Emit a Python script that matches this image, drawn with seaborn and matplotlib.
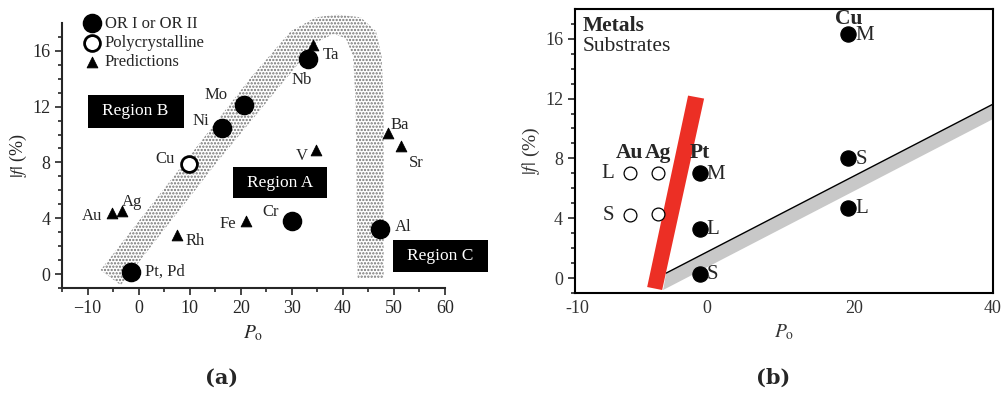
import numpy as np
import pandas as pd
import matplotlib.pyplot as plt
import seaborn as sns
from matplotlib.patches import Polygon, Rectangle

sns.set_style("ticks")
plt.rcParams['font.family'] = ['Liberation Serif', 'DejaVu Serif']
plt.rcParams['mathtext.fontset'] = 'stix'
plt.rcParams['hatch.linewidth'] = 1.1

# ---- panel (a) data ----
or_names = ['Pt, Pd', 'Ni', 'Mo', 'Nb', 'Cr', 'Al']
or_po = [-1.4, 16.3, 20.6, 33.1, 30.0, 47.3]
or_f = [0.15, 10.5, 12.1, 15.4, 3.8, 3.2]

poly_names = ['Cu']
poly_po = [9.8]
poly_f = [7.9]

pred_names = ['Au', 'Ag', 'Rh', 'Fe', 'V', 'Ta', 'Ba', 'Sr']
pred_po = [-5.3, -3.2, 7.5, 21.0, 34.7, 34.2, 48.8, 51.4]
pred_f = [4.35, 4.5, 2.8, 3.8, 8.9, 16.4, 10.1, 9.2]

# stippled band outline (P_o, |f|)
band_po = [-7.45, 8.8, 22.0, 29.8, 34.7, 39.0, 43.5, 46.5, 47.6, 48.0, 48.0,
           42.9, 42.5, 42.0, 40.6, 38.2, 35.3, 31.8, 15.1, -3.5]
band_f = [0.29, 7.9, 14.1, 17.4, 18.4, 18.6, 18.4, 17.4, 15.6, 12.4, -0.3,
          -0.3, 12.4, 15.6, 16.9, 17.2, 16.7, 15.3, 7.9, -0.8]

regions = ['Region B', 'Region A', 'Region C']
region_x = [(-10.0, 8.8), (18.4, 36.9), (49.8, 68.4)]
region_y = [(10.5, 12.85), (5.43, 7.64), (0.14, 2.43)]

# ---- panel (b) data ----
metals = ['Au', 'Ag', 'Pt', 'Cu']
metal_po = [-10.5, -6.7, -1.0, 19.2]
metal_filled = [False, False, True, True]
metal_subs = [['L', 'S'], ['L', 'S'], ['M', 'L', 'S'], ['M', 'S', 'L']]
metal_f = [[7.0, 4.2], [7.0, 4.3], [7.0, 3.3, 0.3], [16.3, 8.0, 4.7]]

red_po = [-8.16, -6.12, -0.41, -2.59]
red_f = [-0.6, -0.8, 12.0, 12.2]
grey_po = [-5.58, 38.8, 38.8, -5.99]
grey_f = [0.33, 11.6, 10.6, -0.8]

# label offsets (pixels) for panel (a)
px = 0.72
lab_a = {
    'Pt, Pd': (14, 0, 'left'), 'Ni': (-13, 7, 'right'), 'Mo': (-16, 10, 'right'),
    'Nb': (-6, -21, 'center'), 'Cr': (-13, 9, 'right'), 'Al': (15, 2, 'left'),
    'Cu': (-14, 5, 'right'), 'Au': (-9, -3, 'right'), 'Ag': (0, 9, 'left'),
    'Rh': (9, -6, 'left'), 'Fe': (-10, -3, 'right'), 'V': (-8, -6, 'right'),
    'Ta': (10, -10, 'left'), 'Ba': (3, 8, 'left'), 'Sr': (8, -17, 'left'),
}

fig = plt.figure(figsize=(10.05, 3.98), dpi=100)
ax1 = fig.add_axes([0.0617, 0.2764, 0.381, 0.666])
ax2 = fig.add_axes([0.572, 0.2638, 0.416, 0.714])

# ---------------- (a) ----------------
ax1.add_patch(Polygon(np.column_stack([band_po, band_f]), closed=True,
                      facecolor='white', edgecolor='#737373', hatch='.....',
                      lw=0, zorder=1, clip_on=False))

sns.scatterplot(x=or_po, y=or_f, ax=ax1, marker='o', s=170, color='black',
                edgecolor='black', label='OR I or OR II', zorder=3)
sns.scatterplot(x=poly_po, y=poly_f, ax=ax1, marker='o', s=130, color='white',
                edgecolor='black', linewidth=2, label='Polycrystalline', zorder=3)
sns.scatterplot(x=pred_po, y=pred_f, ax=ax1, marker='^', s=60, color='black',
                edgecolor='black', label='Predictions', zorder=3)

for names, xs, ys in [(or_names, or_po, or_f), (poly_names, poly_po, poly_f),
                      (pred_names, pred_po, pred_f)]:
    for n, x, y in zip(names, xs, ys):
        dx, dy, ha = lab_a[n]
        ax1.annotate(n, (x, y), xytext=(dx * px, dy * px), textcoords='offset points',
                     ha=ha, va='center', fontsize=12, zorder=4)

for name, (x0, x1), (y0, y1) in zip(regions, region_x, region_y):
    ax1.add_patch(Rectangle((x0, y0), x1 - x0, y1 - y0, facecolor='black',
                            edgecolor='none', zorder=2, clip_on=False))
    ax1.text((x0 + x1) / 2, (y0 + y1) / 2, name, color='white', ha='center',
             va='center', fontsize=12.5, zorder=3, clip_on=False)

ax1.set_xlim(-15, 60)
ax1.set_ylim(-1, 18)
ax1.set_xticks(np.arange(-10, 61, 10))
ax1.set_xticks(np.arange(-15, 61, 5), minor=True)
ax1.set_yticks(np.arange(0, 17, 4))
ax1.set_yticks(np.arange(-1, 18, 1), minor=True)
ax1.tick_params(axis='both', which='major', length=5, width=1.2, labelsize=13)
ax1.tick_params(axis='both', which='minor', length=3, width=1.2)
sns.despine(ax=ax1)
for sp in ['left', 'bottom']:
    ax1.spines[sp].set_linewidth(1.5)
ax1.set_xlabel(r'$P_\mathrm{o}$', fontsize=14, labelpad=5)
ax1.set_ylabel(r'$|f|$ (%)', fontsize=13, labelpad=2)

ax1.legend(loc='upper left', bbox_to_anchor=(0.025, 1.065), frameon=False,
           fontsize=12, handletextpad=0.2, labelspacing=0.2, borderpad=0.1,
           handlelength=1.2)

# ---------------- (b) ----------------
ax2.add_patch(Polygon(np.column_stack([grey_po, grey_f]), closed=True,
                      facecolor='#c8c8c8', edgecolor='none', zorder=1))
ax2.plot(grey_po[:2], grey_f[:2], color='black', lw=1, zorder=1.5)
ax2.add_patch(Polygon(np.column_stack([red_po, red_f]), closed=True,
                      facecolor='#ec2f25', edgecolor='none', zorder=2,
                      clip_on=False))

rows = []
for m, x, filled, subs, fs in zip(metals, metal_po, metal_filled, metal_subs, metal_f):
    for s, y in zip(subs, fs):
        rows.append({'metal': m, 'po': x, 'f': y, 'sub': s, 'filled': filled})
dfb = pd.DataFrame(rows)

sns.scatterplot(data=dfb[dfb['filled']], x='po', y='f', ax=ax2, marker='o', s=120,
                color='black', edgecolor='black', zorder=3, legend=False)
sns.scatterplot(data=dfb[~dfb['filled']], x='po', y='f', ax=ax2, marker='o', s=85,
                color='white', edgecolor='black', linewidth=0.9, zorder=3,
                legend=False)

for _, r in dfb.iterrows():
    if r['filled']:
        ax2.annotate(r['sub'], (r['po'], r['f']), xytext=(7 * px, -1 * px),
                     textcoords='offset points', ha='left', va='center',
                     fontsize=15, zorder=4)
    elif r['metal'] == 'Au':
        ax2.annotate(r['sub'], (r['po'], r['f']), xytext=(-16 * px, 0),
                     textcoords='offset points', ha='right', va='center',
                     fontsize=15, zorder=4)

for m, x, fs in zip(metals, metal_po, metal_f):
    dy = 15 if m == 'Cu' else 20
    ax2.annotate(m, (x, fs[0]), xytext=(0, dy * px), textcoords='offset points',
                 ha='center', va='center', fontsize=15.5, fontweight='bold',
                 zorder=4)

ax2.text(0.018, 0.94, 'Metals', transform=ax2.transAxes, fontsize=15.5,
         fontweight='bold', va='center')
ax2.text(0.018, 0.867, 'Substrates', transform=ax2.transAxes, fontsize=15.5,
         va='center')

ax2.set_xlim(-18, 38.9)
ax2.set_ylim(-1, 18)
ax2.set_xticks([-17.7, 0, 20, 38.9])
ax2.set_xticklabels(['-10', '0', '20', '40'])
ax2.set_yticks(np.arange(0, 17, 4))
ax2.set_yticks(np.arange(-1, 18, 1), minor=True)
ax2.tick_params(axis='x', length=0, labelsize=13, labelcolor='#333333', pad=5)
ax2.tick_params(axis='y', which='major', length=5, width=1.2, labelsize=13,
                labelcolor='#333333')
ax2.tick_params(axis='y', which='minor', length=3, width=1.2)
for sp in ax2.spines.values():
    sp.set_linewidth(1.5)
    sp.set_color('black')
ax2.set_xlabel(r'$P_\mathrm{o}$', fontsize=14, labelpad=4, color='#333333')
ax2.set_ylabel(r'$|f|$ (%)', fontsize=14, labelpad=2, color='#333333')

fig.text(222 / 1005, 1 - 378 / 398, '(a)', ha='center', va='center',
         fontsize=15, fontweight='bold', family='DejaVu Serif')
fig.text(773 / 1005, 1 - 378 / 398, '(b)', ha='center', va='center',
         fontsize=15, fontweight='bold', family='DejaVu Serif')

fig.savefig('out.png', dpi=100)
